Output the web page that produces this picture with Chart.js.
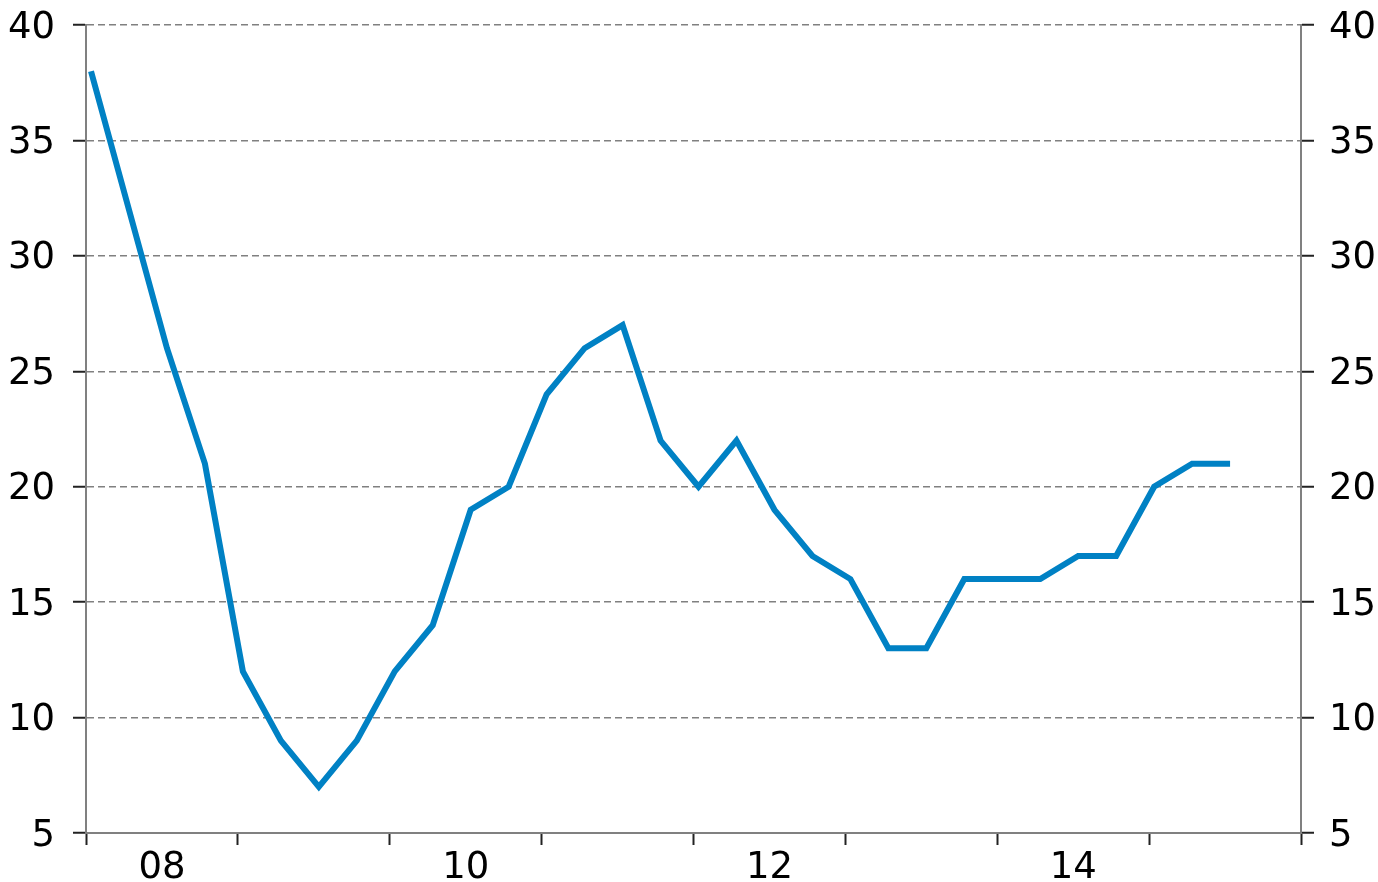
<!DOCTYPE html>
<html>
<head>
<meta charset="utf-8">
<script src="https://cdn.jsdelivr.net/npm/chart.js@4/dist/chart.umd.min.js"></script>
<style>
  html, body { margin: 0; padding: 0; background: #fff; }
  #wrap { width: 1378px; height: 882px; }
</style>
</head>
<body>
<div id="wrap"><canvas id="myChart"></canvas></div>
<script>
// kwartalen 2008 K1 t/m 2015 K3
let jaren =     [2008, 2008, 2008, 2008, 2009, 2009, 2009, 2009, 2010, 2010, 2010, 2010, 2011, 2011, 2011, 2011,
                 2012, 2012, 2012, 2012, 2013, 2013, 2013, 2013, 2014, 2014, 2014, 2014, 2015, 2015, 2015];
let kwartalen = [1, 2, 3, 4, 1, 2, 3, 4, 1, 2, 3, 4, 1, 2, 3, 4,
                 1, 2, 3, 4, 1, 2, 3, 4, 1, 2, 3, 4, 1, 2, 3];
let waarden =   [38, 32, 26, 21, 12, 9, 7, 9, 12, 14, 19, 20, 24, 26, 27, 22,
                 20, 22, 19, 17, 16, 13, 13, 16, 16, 16, 17, 17, 20, 21, 21];

let yTicks = [5, 10, 15, 20, 25, 30, 35, 40];
let xLabels = ["08", "10", "12", "14"];

let lijnkleur = "#0081C4";
let grijs = "#808080";
let fontje = { family: "'DejaVu Sans', Verdana, sans-serif", size: 37 };

// punt staat net na het begin van het kwartaal
const punten = waarden.map((v, i) => ({ x: jaren[i] + (kwartalen[i] - 1) / 4 + 0.033, y: v }));

const yAs = (pos, breedte) => ({
    position: pos,
    min: 5,
    max: 40,
    afterBuildTicks: s => { s.ticks = yTicks.map(v => ({ value: v })); },
    afterFit: s => {
        s.width = breedte;
        s.paddingTop = 0;
        s.paddingBottom = 0;
    },
    border: { display: true, color: grijs, width: 2, dash: [7, 4] },
    grid: {
        display: true,
        drawOnChartArea: pos === "left",
        color: grijs,
        lineWidth: 1.5,
        tickColor: "#222",
        tickLength: 13,
        tickWidth: 2,
        tickBorderDash: []
    },
    ticks: { color: "#000", font: fontje, padding: pos === "left" ? 18 : 15, labelOffset: 3 }
});

const config = {
    type: "line",
    data: {
        datasets: [{
            data: punten,
            borderColor: lijnkleur,
            borderWidth: 6,
            pointRadius: 0,
            tension: 0,
            borderJoinStyle: "miter",
            borderCapStyle: "butt"
        }]
    },
    options: {
        responsive: true,
        maintainAspectRatio: false,
        animation: false,
        layout: { padding: { top: 25, left: 0, right: 0, bottom: 0 } },
        plugins: { legend: { display: false }, tooltip: { enabled: false } },
        scales: {
            x: {
                type: "linear",
                min: 2008,
                max: 2016,
                afterBuildTicks: s => {
                    let t = [];
                    for (let j = 2008; j <= 2016; j += 0.5) t.push({ value: j });
                    s.ticks = t;
                },
                afterFit: s => {
                    s.height = 49;
                    s.paddingLeft = 0;
                    s.paddingRight = 0;
                },
                border: { display: true, color: grijs, width: 2 },
                grid: {
                    display: true,
                    drawOnChartArea: false,
                    tickLength: 12,
                    tickWidth: 2,
                    tickColor: c => (c.tick && Number.isInteger(c.tick.value)) ? "#222" : "rgba(0,0,0,0)"
                },
                ticks: {
                    color: "#000",
                    font: fontje,
                    padding: 1,
                    maxRotation: 0,
                    autoSkip: false,
                    callback: v => {
                        if (Number.isInteger(v)) return "";
                        let idx = xLabels.indexOf(String(Math.floor(v)).slice(2));
                        return idx >= 0 ? xLabels[idx] : "";
                    }
                }
            },
            y: yAs("left", 86),
            y2: yAs("right", 77)
        }
    }
};

let myChart = new Chart(document.getElementById("myChart"), config);
</script>
</body>
</html>
